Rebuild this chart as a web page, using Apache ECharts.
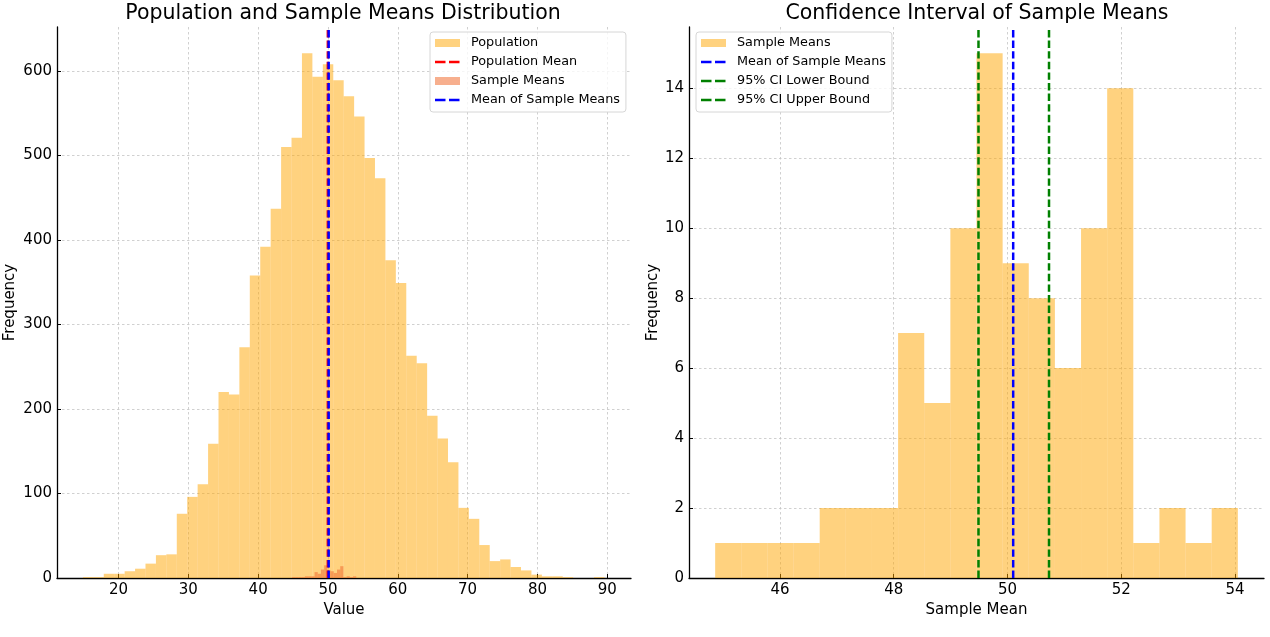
<!DOCTYPE html>
<html>
<head>
<meta charset="utf-8">
<script src="https://cdn.jsdelivr.net/npm/echarts@6/dist/echarts.min.js"></script>
<style>
  html, body { margin: 0; padding: 0; background: #fff; }
  #main { width: 1270px; height: 637px; }
</style>
</head>
<body>
<div id="main"></div>
<script>
// population histogram: 50 bins
var popBinStart = 14.9;
var popBinWidth = 1.494;
var popCounts = [1, 1, 5, 5, 8, 11, 17, 27, 28, 76,
  96, 111, 159, 220, 217, 273, 358, 392, 437, 510,
  521, 621, 593, 608, 589, 570, 546, 497, 473, 376,
  349, 263, 254, 192, 165, 137, 83, 70, 39, 20,
  22, 13, 9, 4, 2, 2, 1, 0, 0, 1];

// sample means histogram: 20 bins
var smBinStart = 44.86;
var smBinWidth = 0.4595;
var smCounts = [1, 1, 1, 1, 2, 2, 2, 7, 5, 10, 15, 9, 8, 6, 10, 14, 1, 2, 1, 2];

var popMean = 49.98;
var sampleMeansMean = 50.10;
var ciLower = 49.49;
var ciUpper = 50.73;

var leftXTicks = [20, 30, 40, 50, 60, 70, 80, 90];
var leftYTicks = [0, 100, 200, 300, 400, 500, 600];
var rightXTicks = [46, 48, 50, 52, 54];
var rightYTicks = [0, 2, 4, 6, 8, 10, 12, 14];

var leftX = [11.19, 93.4], leftYMax = 652;
var rightX = [44.40, 54.51], rightYMax = 15.75;

var FONT = 'DejaVu Sans';

function bins(start, width, counts) {
  return counts.map(function (c, i) {
    return [start + i * width, start + (i + 1) * width, c];
  });
}

function histItem(params, api) {
  var a = api.coord([api.value(0), api.value(2)]);
  var b = api.coord([api.value(1), 0]);
  return {
    type: 'rect',
    shape: { x: a[0], y: a[1], width: b[0] - a[0], height: b[1] - a[1] },
    style: { fill: api.visual('color') }
  };
}

var dashIcon = 'path://M0,0L0.01,0ZM25,8L24.99,8ZM0,2.8h10.5v2.4h-10.5zM14,2.8h10.5v2.4h-10.5z';

function xAxis(idx, ext, ticks, name) {
  return {
    type: 'value', gridIndex: idx, min: ext[0], max: ext[1],
    name: name, nameLocation: 'middle', nameGap: 22,
    nameTextStyle: { fontFamily: FONT, fontSize: 15, color: '#000' },
    axisLine: { lineStyle: { color: '#000', width: 1.3 } },
    axisTick: { inside: true, length: 4, customValues: ticks, lineStyle: { color: '#000' } },
    axisLabel: { customValues: ticks, fontFamily: FONT, fontSize: 15, color: '#000', margin: 5 },
    splitLine: { show: true, customValues: ticks, lineStyle: { color: '#c4c4c4', type: [2.5, 2.5], width: 0.8 } }
  };
}

function yAxis(idx, max, ticks, gap) {
  return {
    type: 'value', gridIndex: idx, min: 0, max: max,
    name: 'Frequency', nameLocation: 'middle', nameGap: gap,
    nameTextStyle: { fontFamily: FONT, fontSize: 15, color: '#000' },
    axisLine: { show: true, lineStyle: { color: '#000', width: 1.3 } },
    axisTick: { show: true, inside: true, length: 4, customValues: ticks, lineStyle: { color: '#000' } },
    axisLabel: { customValues: ticks, fontFamily: FONT, fontSize: 15, color: '#000', margin: 5 },
    splitLine: { show: true, customValues: ticks, lineStyle: { color: '#c4c4c4', type: [2.5, 2.5], width: 0.8 } }
  };
}

function vline(name, x, yMax, color, idx) {
  return {
    name: name, type: 'line', xAxisIndex: idx, yAxisIndex: idx,
    data: [[x, 0], [x, yMax]], symbol: 'none', color: color,
    lineStyle: { color: color, width: 2.5, type: [7.4, 3.2] }, z: 5
  };
}

var popColor = 'rgba(255,165,0,0.5)';
var smLeftColor = 'rgba(240,110,50,0.55)';

function legend(left, items) {
  return {
    orient: 'vertical', left: left, top: 32, selectedMode: false,
    itemWidth: 25, itemHeight: 8, itemGap: 5,
    padding: [4, 6, 5, 5],
    borderColor: '#d6d6d6', borderWidth: 1, borderRadius: 3,
    backgroundColor: 'rgba(255,255,255,0.8)',
    textStyle: { fontFamily: FONT, fontSize: 12.8, color: '#000', lineHeight: 14, padding: [0, 0, 0, 6] },
    data: items.map(function (it) {
      return { name: it[0], icon: it[2] ? dashIcon : 'rect', itemStyle: { color: it[1] } };
    }),
    z: 10
  };
}

var myChart = echarts.init(document.getElementById('main'));

myChart.setOption({
  animation: false,
  title: [
    { text: 'Population and Sample Means Distribution', left: 343, textAlign: 'center', top: 3, padding: 0,
      textStyle: { fontFamily: FONT, fontSize: 20.5, fontWeight: 'normal', color: '#000' } },
    { text: 'Confidence Interval of Sample Means', left: 977, textAlign: 'center', top: 3, padding: 0,
      textStyle: { fontFamily: FONT, fontSize: 20.5, fontWeight: 'normal', color: '#000' } }
  ],
  legend: [
    legend(430, [['Population', popColor], ['Population Mean', 'red', 1],
      ['Sample Means', smLeftColor], ['Mean of Sample Means', 'blue', 1]]),
    legend(696, [['Sample Means', popColor], ['Mean of Sample Means', 'blue', 1],
      ['95% CI Lower Bound', 'green', 1], ['95% CI Upper Bound', 'green', 1]])
  ],
  grid: [
    { left: 57, top: 27, width: 574, height: 551 },
    { left: 689, top: 27, width: 575, height: 551 }
  ],
  xAxis: [xAxis(0, leftX, leftXTicks, 'Value'), xAxis(1, rightX, rightXTicks, 'Sample Mean')],
  yAxis: [yAxis(0, leftYMax, leftYTicks, 39), yAxis(1, rightYMax, rightYTicks, 28)],
  series: [
    { name: 'Population', type: 'custom', xAxisIndex: 0, yAxisIndex: 0, renderItem: histItem,
      itemStyle: { color: popColor }, encode: { x: [0, 1], y: 2 },
      data: bins(popBinStart, popBinWidth, popCounts) },
    { name: 'Sample Means', type: 'custom', xAxisIndex: 0, yAxisIndex: 0, renderItem: histItem,
      itemStyle: { color: smLeftColor }, encode: { x: [0, 1], y: 2 },
      data: bins(smBinStart, smBinWidth, smCounts) },
    vline('Population Mean', popMean, leftYMax, 'red', 0),
    vline('Mean of Sample Means', sampleMeansMean, leftYMax, 'blue', 0),
    { name: 'Sample Means', type: 'custom', xAxisIndex: 1, yAxisIndex: 1, renderItem: histItem,
      itemStyle: { color: popColor }, encode: { x: [0, 1], y: 2 },
      data: bins(smBinStart, smBinWidth, smCounts) },
    vline('Mean of Sample Means', sampleMeansMean, rightYMax, 'blue', 1),
    vline('95% CI Lower Bound', ciLower, rightYMax, 'green', 1),
    vline('95% CI Upper Bound', ciUpper, rightYMax, 'green', 1)
  ]
});
</script>
</body>
</html>
